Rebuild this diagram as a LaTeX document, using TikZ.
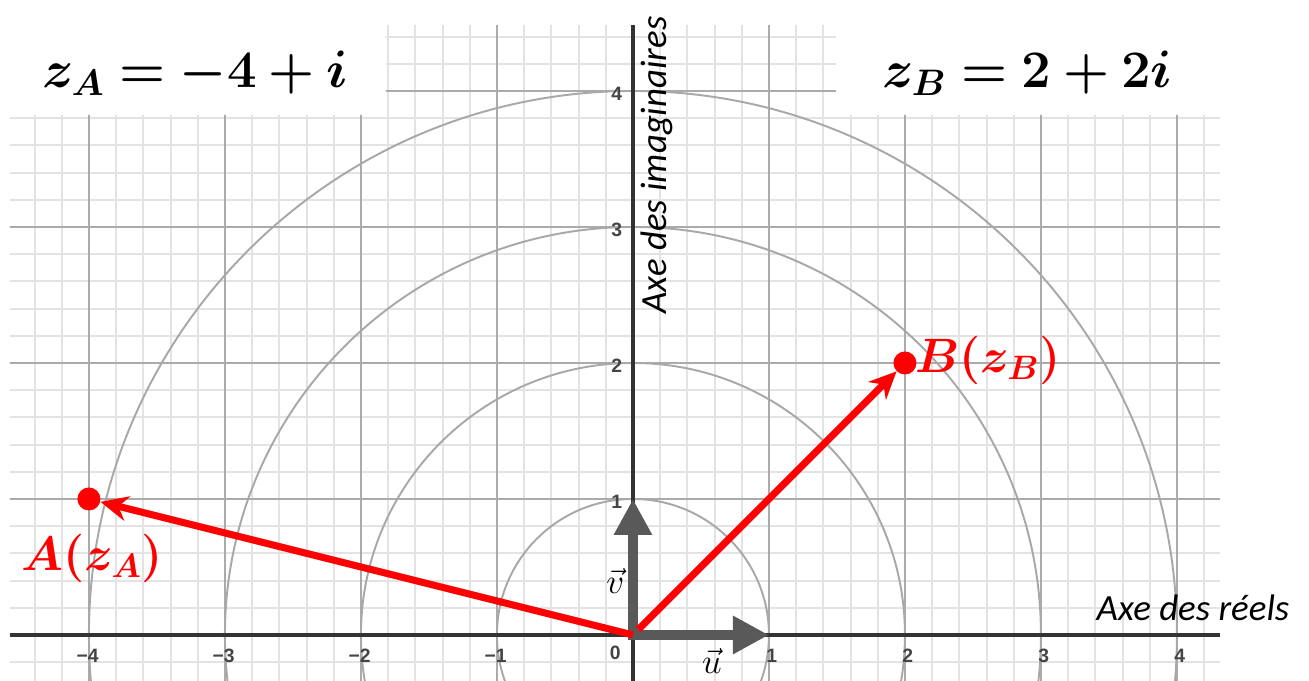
\RequirePackage{fix-cm}
\documentclass[tikz,border=0pt]{standalone}
\usepackage{fontspec}
\usepackage{amsmath}
\usepackage{bm}
\usetikzlibrary{arrows.meta}
\newfontfamily\labfont{Carlito}
\newfontfamily\tickfont{Liberation Sans}
\definecolor{minorc}{HTML}{E3E3E3}
\definecolor{majorc}{HTML}{ABABAB}
\definecolor{circc}{HTML}{A8A8A8}
\definecolor{axisc}{HTML}{333333}
\definecolor{vecc}{HTML}{595959}
\definecolor{ptred}{HTML}{FF0000}
\definecolor{tickc}{HTML}{444444}
\begin{document}
\begin{tikzpicture}[x=2.72cm,y=2.72cm,
  minorgrid/.style={draw=minorc, line width=1.1pt},
  majorgrid/.style={draw=majorc, line width=1.1pt},
  circ/.style={draw=circc, line width=1.1pt},
  axisline/.style={draw=axisc, line width=2pt},
  unitvec/.style={draw=vecc, line width=6pt, line cap=rect, -{Triangle[length=0.72cm,width=0.72cm]}},
  redvec/.style={draw=ptred, line width=4pt, -{Stealth[length=0.55cm,width=0.5cm]}},
  ptdot/.style={circle, fill=ptred, inner sep=0pt, minimum size=0.46cm},
  ticklab/.style={font=\tickfont\bfseries\fontsize{11}{13}\selectfont, text=tickc, inner sep=0pt},
  axislab/.style={font=\labfont\itshape\fontsize{21}{25}\selectfont, inner sep=0pt},
  titlelab/.style={font=\fontsize{30}{36}\selectfont, inner sep=0pt},
  redlab/.style={font=\fontsize{27.5}{32}\selectfont, text=ptred, inner sep=0pt},
  veclab/.style={font=\fontsize{20}{24}\selectfont, inner sep=0pt}
]
\useasboundingbox (-4.654,-0.338) rectangle (4.971,4.669);
\fill[white] (-4.654,-0.338) rectangle (4.971,4.669);
\begin{scope}
  \clip (-4.581,-0.34) rectangle (4.316,3.824) (-1.816,3.80) rectangle (1.493,4.485);
  \draw[minorgrid, step=0.2] (-5,-1) grid (5,5);
  \draw[majorgrid, step=1] (-5,-1) grid (5,5);
  \foreach \r in {1,...,4} \draw[circ] (0,0) circle (\r);
\end{scope}
\coordinate (xl) at (-4.581,0);
\coordinate (xr) at (4.316,0);
\coordinate (yb) at (0,-0.34);
\coordinate (yt) at (0,4.485);
\draw[axisline] (xl) -- (xr);
\draw[axisline] (yb) -- (yt);
% tick labels
\foreach \k in {1,...,4} {
  \node[ticklab] (txp\k) at (\k+0.02,-0.15) {\k};
  \node[ticklab] (txm\k) at (-\k-0.01,-0.15) {−\k};
  \node[ticklab] (ty\k) at (-0.12,\k-0.02) {\k};
}
\node[ticklab] (t0) at (-0.13,-0.13) {0};
% axis labels
\node[axislab] (ax) at (4.118,0.20) {Axe des réels};
\node[axislab, rotate=90] (ay) at (0.176,3.456) {Axe des imaginaires};
% titles
\node[titlelab] (tA) at (-3.22,4.13) {$\bm{z_A = -4 + i}$};
\node[titlelab] (tB) at (2.90,4.13) {$\bm{z_B = 2 + 2i}$};
% unit vectors
\coordinate (O) at (0,0);
\coordinate (U) at (1,0);
\coordinate (V) at (0,1);
\draw[unitvec] (O) -- (U);
\draw[unitvec] (O) -- (V);
\node[veclab] (lu) at (0.58,-0.19) {$\vec{u}$};
\node[veclab] (lv) at (-0.13,0.40) {$\vec{v}$};
% points
\node[ptdot] (A) at (-4,1) {};
\node[ptdot] (B) at (2,2) {};
\draw[redvec] (O) -- (A);
\draw[redvec, shorten <=0.15cm] (O) -- (B);
\node[redlab] (lA) at (-3.975,0.566) {$\bm{A(z_A)}$};
\node[redlab] (lB) at (2.61,2.022) {$\bm{B(z_B)}$};
\end{tikzpicture}
\end{document}
